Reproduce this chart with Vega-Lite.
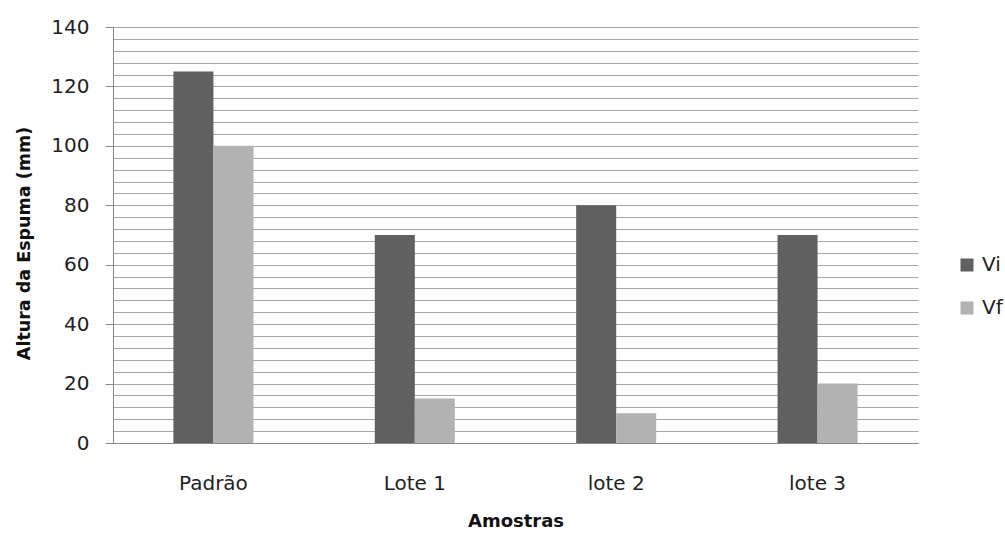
{
  "$schema": "https://vega.github.io/schema/vega-lite/v6.json",
  "width": 805,
  "height": 416,
  "autosize": "none",
  "padding": {"left": 113, "top": 27, "right": 87, "bottom": 93},
  "background": "white",
  "config": {
    "font": "DejaVu Sans",
    "view": {"stroke": null}
  },
  "data": {
    "values": [
      {"amostra": "Padrão", "serie": "Vi", "altura": 125},
      {"amostra": "Padrão", "serie": "Vf", "altura": 100},
      {"amostra": "Lote 1", "serie": "Vi", "altura": 70},
      {"amostra": "Lote 1", "serie": "Vf", "altura": 15},
      {"amostra": "lote 2", "serie": "Vi", "altura": 80},
      {"amostra": "lote 2", "serie": "Vf", "altura": 10},
      {"amostra": "lote 3", "serie": "Vi", "altura": 70},
      {"amostra": "lote 3", "serie": "Vf", "altura": 20}
    ]
  },
  "mark": {"type": "bar"},
  "encoding": {
    "x": {
      "field": "amostra",
      "type": "nominal",
      "sort": ["Padrão", "Lote 1", "lote 2", "lote 3"],
      "scale": {"paddingInner": 0.6025, "paddingOuter": 0.3},
      "axis": {
        "title": "Amostras",
        "labelAngle": 0,
        "labelFontSize": 20,
        "labelColor": "#222222",
        "labelPadding": 30,
        "ticks": false,
        "domainColor": "#888888",
        "titleFontSize": 18,
        "titleFontWeight": "bold",
        "titleColor": "#111111",
        "titlePadding": 19
      }
    },
    "xOffset": {"field": "serie", "type": "nominal", "sort": ["Vi", "Vf"], "scale": {"paddingInner": 0, "paddingOuter": 0}},
    "y": {
      "field": "altura",
      "type": "quantitative",
      "scale": {"domain": [0, 140], "nice": false},
      "axis": {
        "title": "Altura da Espuma (mm)",
        "values": [0,4,8,12,16,20,24,28,32,36,40,44,48,52,56,60,64,68,72,76,80,84,88,92,96,100,104,108,112,116,120,124,128,132,136,140],
        "labelExpr": "datum.value % 20 == 0 ? datum.label : ''",
        "labelFontSize": 20,
        "labelColor": "#222222",
        "labelPadding": 16,
        "tickSize": 8,
        "tickColor": "#888888",
        "tickOpacity": {"condition": {"test": "datum.value % 20 == 0", "value": 1}, "value": 0},
        "grid": true,
        "gridColor": "#a6a6a6",
        "gridWidth": 1,
        "domainColor": "#888888",
        "titleFontSize": 17.5,
        "titleFontWeight": "bold",
        "titleColor": "#111111",
        "titlePadding": 17,
        "titleY": 216
      }
    },
    "color": {
      "field": "serie",
      "type": "nominal",
      "sort": ["Vi", "Vf"],
      "scale": {"domain": ["Vi", "Vf"], "range": ["#606060", "#b2b2b2"]},
      "legend": {
        "title": null,
        "orient": "none",
        "legendX": 844,
        "legendY": 228,
        "symbolType": "square",
        "symbolSize": 169,
        "symbolStrokeWidth": 0,
        "labelOffset": 5,
        "labelFontSize": 20,
        "labelColor": "#222222",
        "rowPadding": 23
      }
    }
  }
}
